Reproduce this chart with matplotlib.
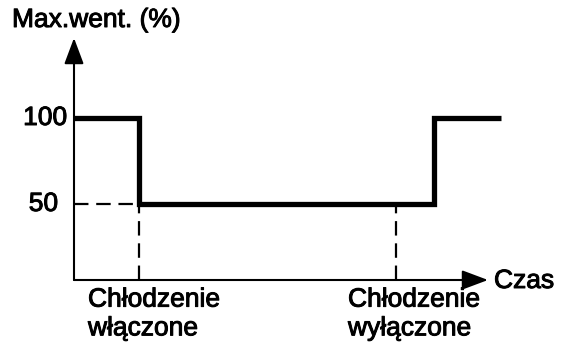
import matplotlib
matplotlib.use("Agg")
import matplotlib.pyplot as plt
import matplotlib.patheffects as pe

# Data
step_t = [0, 6.5, 6.5, 36.0, 36.0, 42.7]      # time (arbitrary units)
step_v = [100, 100, 50, 50, 100, 100]          # max fan speed (%)
t_on = 6.5
t_off = 32.2
level_labels = ["100", "50"]
level_values = [100, 50]
y_title = "Max.went. (%)"
x_title = "Czas"
event_labels = ["Chłodzenie\nwłączone", "Chłodzenie\nwyłączone"]

W, H = 569, 345
fig = plt.figure(figsize=(W / 100, H / 100), dpi=100)
plt.rcParams['font.family'] = ['Liberation Sans', 'DejaVu Sans']

def fx(px):
    return px / W

def fy(py):
    return 1 - py / H

ax = fig.add_axes([fx(74), fy(280), fx(488) - fx(74), fy(38) - fy(280)])
x0, x1 = 0, 41.4
y0, y1 = 5.8, 146.5
ax.set_xlim(x0, x1)
ax.set_ylim(y0, y1)
ax.axis('off')

# axes arrows
arrow = dict(arrowstyle='-|>,head_length=0.8,head_width=0.3', color='black',
             lw=1.5, mutation_scale=20, shrinkA=0, shrinkB=0)
ax.annotate('', xy=(0, y1), xytext=(0, y0), arrowprops=arrow, annotation_clip=False)
ax.annotate('', xy=(x1, y0), xytext=(0, y0), arrowprops=arrow, annotation_clip=False)

# dashed guides
dash = dict(color='black', lw=1.6, linestyle=(0, (6.5, 3.5)), clip_on=False)
ax.plot([0, t_on], [level_values[1]] * 2, **dash)
ax.plot([t_on, t_on], [y0, level_values[1]], **dash)
ax.plot([t_off, t_off], [y0, level_values[1]], **dash)

# step line
ax.plot(step_t, step_v, color='black', lw=3.8, solid_joinstyle='miter',
        solid_capstyle='butt', clip_on=False)

fs = 19
heavy = [pe.withStroke(linewidth=0.7, foreground='black')]
kw = dict(fontsize=fs, path_effects=heavy)
fig.text(fx(12), fy(20), y_title, ha='left', va='center', **kw)
fig.text(fx(67), fy(118), level_labels[0], ha='right', va='center', **kw)
fig.text(fx(58), fy(204), level_labels[1], ha='right', va='center', **kw)
fig.text(fx(494), fy(281), x_title, ha='left', va='center', **kw)
fig.text(fx(88), fy(314), event_labels[0], ha='left', va='center',
         linespacing=1.25, **kw)
fig.text(fx(348), fy(314), event_labels[1], ha='left', va='center',
         linespacing=1.25, **kw)

fig.savefig('out.png', dpi=100)
